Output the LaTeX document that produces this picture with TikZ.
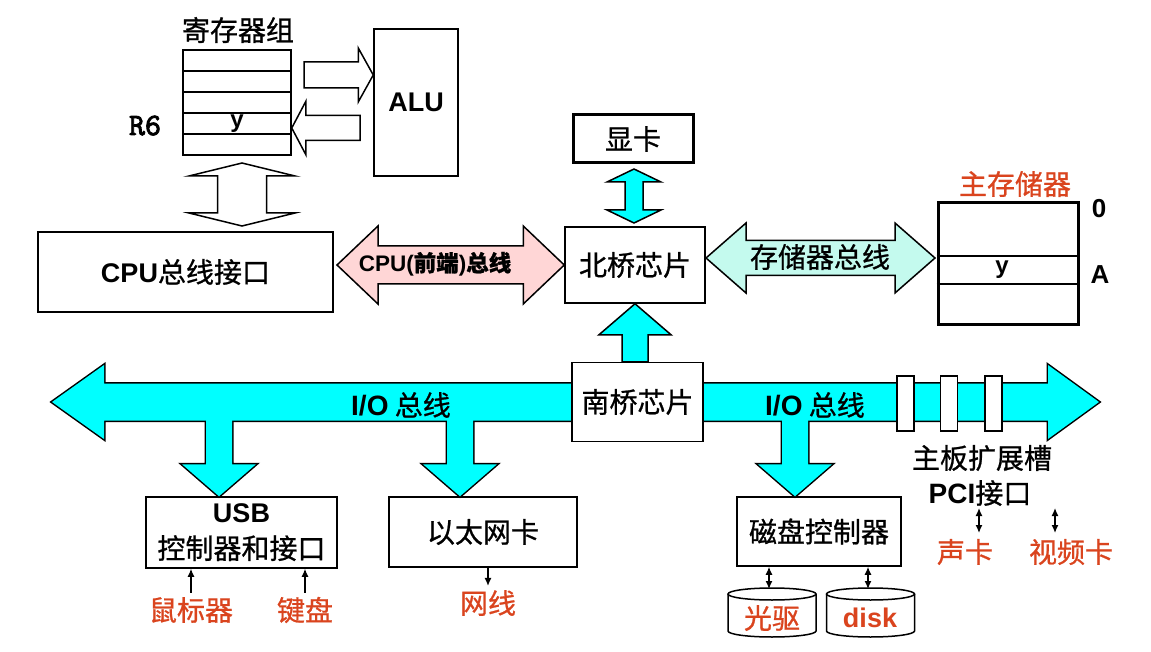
\documentclass[tikz,border=0pt]{standalone}
\usepackage{fontspec}
\setmainfont{Liberation Sans}
\newfontfamily\cjk[FakeBold=0.8]{Noto Sans CJK SC}
\newfontfamily\regmono[FakeBold=3]{Latin Modern Mono}
\usepackage{tikz}
\usetikzlibrary{calc,arrows.meta}

\definecolor{busCyan}{RGB}{0,255,255}
\definecolor{fsbPink}{RGB}{255,214,214}
\definecolor{memCyan}{RGB}{196,250,238}
\definecolor{devRed}{RGB}{218,68,30}

% block arrow: style, tail, tip, shaft half width, head half width, head length
\newcommand{\blockarrow}[6]{%
  \coordinate (ba-h) at ($(#3)!#6!(#2)$);
  \path[#1] ($(#2)!#4!90:(#3)$) -- ($(ba-h)!#4!90:(#3)$) -- ($(ba-h)!#5!90:(#3)$) -- (#3)
    -- ($(ba-h)!#5!-90:(#3)$) -- ($(ba-h)!#4!-90:(#3)$) -- ($(#2)!#4!-90:(#3)$) -- cycle;
}
% same with a head at both ends
\newcommand{\blockdarrow}[6]{%
  \coordinate (ba-a) at ($(#2)!#6!(#3)$);
  \coordinate (ba-b) at ($(#3)!#6!(#2)$);
  \path[#1] (#2) -- ($(ba-a)!#5!90:(#3)$) -- ($(ba-a)!#4!90:(#3)$) -- ($(ba-b)!#4!90:(#3)$)
    -- ($(ba-b)!#5!90:(#3)$) -- (#3) -- ($(ba-b)!#5!-90:(#3)$) -- ($(ba-b)!#4!-90:(#3)$)
    -- ($(ba-a)!#4!-90:(#3)$) -- ($(ba-a)!#5!-90:(#3)$) -- cycle;
}

\tikzset{
  box/.style={draw, line width=1.5pt, fill=white, inner sep=0pt},
  thickbox/.style={box, line width=3pt},
  hollowarrow/.style={draw, line width=1.5pt, fill=white, line join=miter},
  cyanarrow/.style={draw, line width=1.5pt, fill=busCyan},
  busline/.style={draw, line width=3pt},
  busfill/.style={fill=busCyan},
  cn/.style={font=\fontsize{28}{34}\selectfont\cjk, inner sep=4pt},
  redtxt/.style={text=devRed},
  tinyarrow/.style={line width=1.3pt, -{Latex[length=8pt,width=7pt]}},
  tinyarrows/.style={line width=1.3pt, {Latex[length=8pt,width=7pt]}-{Latex[length=8pt,width=7pt]}},
  slot/.style={box, minimum width=17pt, minimum height=55pt},
}

\begin{document}
\begin{tikzpicture}[x=1pt,y=-1pt,font=\fontsize{27}{34}\selectfont]
 \fill[white] (0,0) rectangle (1151,652);
 \useasboundingbox (0,0) rectangle (1151,652);

 % registers and ALU
 \node[cn] (reglabel) at (238,30) {寄存器组};
 \node[box, minimum width=108pt, minimum height=105pt] (regs) at (237,102.5) {};
 \foreach \y in {71,92,113,134} \draw[line width=1.5pt] (regs.west |- 0,\y) -- (regs.east |- 0,\y);
 \node[font=\fontsize{24}{28}\selectfont\bfseries, anchor=base] (ry) at (237,128) {y};
 \node[font=\fontsize{31}{34}\selectfont\regmono, anchor=base] (r6) at (145,135) {R6};
 \node[box, minimum width=84pt, minimum height=147pt, font=\fontsize{27}{34}\selectfont\bfseries] (alu) at (416,102.5) {ALU};

 \coordinate (r2a) at (304,75);
 \coordinate (a2r) at (360,128);
 \coordinate (r2a-t) at (alu.west |- r2a);
 \coordinate (a2r-t) at (regs.east |- a2r);
 \blockarrow{hollowarrow}{r2a}{r2a-t}{13pt}{27pt}{15pt}
 \blockarrow{hollowarrow}{a2r}{a2r-t}{12.5pt}{26.5pt}{14pt}

 % CPU bus interface
 \node[box, minimum width=295pt, minimum height=80pt] (cpu) at (185.5,272) {{\bfseries CPU}{\fontsize{28}{34}\selectfont\cjk 总线接口}};
 \coordinate (rc-a) at (242,163);
 \coordinate (rc-b) at (242,226);
 \blockdarrow{hollowarrow}{rc-a}{rc-b}{24.5pt}{53pt}{13pt}

 % north bridge
 \node[box, minimum width=140pt, minimum height=76pt, cn] (nb) at (635,265) {北桥芯片};
 \coordinate (fsb-l) at (337,265);
 \blockdarrow{cyanarrow, fill=fsbPink}{fsb-l}{nb.west}{19pt}{39pt}{41pt}
 \node[font=\fontsize{22.5}{26}\selectfont\bfseries] (fsblabel) at (435,264) {CPU({\cjk 前端}){\cjk 总线}};

 \node[thickbox, minimum width=120pt, minimum height=48pt, cn] (vga) at (633,139) {显卡};
 \coordinate (vga-a) at (634,169);
 \coordinate (vga-b) at (634,223);
 \blockdarrow{cyanarrow}{vga-a}{vga-b}{9pt}{27pt}{13pt}

 % main memory
 \node[thickbox, minimum width=140pt, minimum height=121pt] (mem) at (1008,263.5) {};
 \foreach \y in {256,284} \draw[line width=1.5pt] (mem.west |- 0,\y) -- (mem.east |- 0,\y);
 \node[cn, redtxt] (memlabel) at (1015,184) {主存储器};
 \node[font=\fontsize{24}{28}\selectfont\bfseries, anchor=base] (my) at (1002,274) {y};
 \node[font=\fontsize{26}{30}\selectfont\bfseries, anchor=base] (addr0) at (1099,218) {0};
 \node[font=\fontsize{26}{30}\selectfont\bfseries, anchor=base] (addrA) at (1100,284) {A};
 \coordinate (mb-l) at (706,258);
 \coordinate (mb-r) at (935,258);
 \blockdarrow{cyanarrow, fill=memCyan}{mb-l}{mb-r}{17.5pt}{35pt}{40pt}
 \node[cn] (mblabel) at (820,257) {存储器总线};

 % devices
 \node[box, minimum width=191pt, minimum height=71pt, align=center, font=\fontsize{27}{36}\selectfont] (usb) at (241.5,532.5) {{\bfseries USB}\\{\fontsize{28}{36}\selectfont\cjk 控制器和接口}};
 \node[box, minimum width=188pt, minimum height=70pt, cn] (eth) at (483,532) {以太网卡};
 \node[box, minimum width=164pt, minimum height=69pt, cn] (hdc) at (819,531.5) {磁盘控制器};

 % I/O bus
 \coordinate (io-c) at (637.5,402);
 \coordinate (io-l) at (52,402);
 \coordinate (io-r) at (1099,402);
 \coordinate (d1) at (219,402);
 \coordinate (d2) at (460,402);
 \coordinate (d3) at (795,402);
 \coordinate (d1-t) at (d1 |- usb.north);
 \coordinate (d2-t) at (d2 |- eth.north);
 \coordinate (d3-t) at (d3 |- hdc.north);
 \foreach \pass in {busline,busfill}{
   \blockarrow{\pass}{io-c}{io-l}{18.5pt}{37pt}{52pt}
   \blockarrow{\pass}{io-c}{io-r}{18.5pt}{37pt}{51pt}
   \foreach \d in {1,2,3} {\blockarrow{\pass}{d\d}{d\d-t}{13pt}{37pt}{32pt}}
 }
 \node[box, minimum width=131pt, minimum height=79pt, cn] (sb) at (io-c) {南桥芯片};
 \coordinate (up-s) at (nb.south |- sb.north);
 \blockarrow{cyanarrow}{up-s}{nb.south}{13pt}{36pt}{31pt}
 \foreach \x [count=\i] in {905.5,949,993.5} \node[slot] (slot\i) at (\x,403.5) {};
 \node[cn] (iolabel-l) at (401,405) {{\rmfamily\bfseries I/O} 总线};
 \node[cn] (iolabel-r) at (815,405) {{\rmfamily\bfseries I/O} 总线};
 \node[cn] (slotlabel) at (982,458) {主板扩展槽};
 \node[cn] (pci) at (980,493) {{\rmfamily\bfseries PCI}接口};

 % peripherals
 \node[cn, redtxt] (mouse) at (191,610) {鼠标器};
 \node[cn, redtxt] (kbd) at (305,610) {键盘};
 \node[cn, redtxt] (wire) at (488,603) {网线};
 \node[cn, redtxt] (sound) at (965,552) {声卡};
 \node[cn, redtxt] (video) at (1071,552) {视频卡};
 \draw[tinyarrow] (mouse.north) -- (mouse.north |- usb.south);
 \draw[tinyarrow] (kbd.north) -- (kbd.north |- usb.south);
 \draw[tinyarrow] (eth.south -| wire.north) -- (wire.north);

 \coordinate (snd-t) at (979,508);
 \coordinate (snd-b) at (979,533);
 \coordinate (vid-t) at (1055,508);
 \coordinate (vid-b) at (1055,533);
 \draw[tinyarrows] (snd-t) -- (snd-b);
 \draw[tinyarrows] (vid-t) -- (vid-b);

 % drives
 \foreach \x in {772,870.5} {
   \draw[line width=1.5pt, fill=white] (\x-44,594) -- (\x-44,631) arc[start angle=180, end angle=360, x radius=44pt, y radius=6pt] -- (\x+44,594);
   \draw[line width=1.5pt, fill=white] (\x,594) ellipse[x radius=44pt, y radius=6pt];
 }
 \node[cn, redtxt] (cd) at (772,618) {光驱};
 \node[font=\fontsize{27}{34}\selectfont\bfseries, redtxt] (hd) at (870,618) {disk};
 \coordinate (cd-top) at (769,589);
 \coordinate (hd-top) at (868,589);
 \draw[tinyarrows] (hdc.south -| cd-top) -- (cd-top);
 \draw[tinyarrows] (hdc.south -| hd-top) -- (hd-top);
\end{tikzpicture}
\end{document}
